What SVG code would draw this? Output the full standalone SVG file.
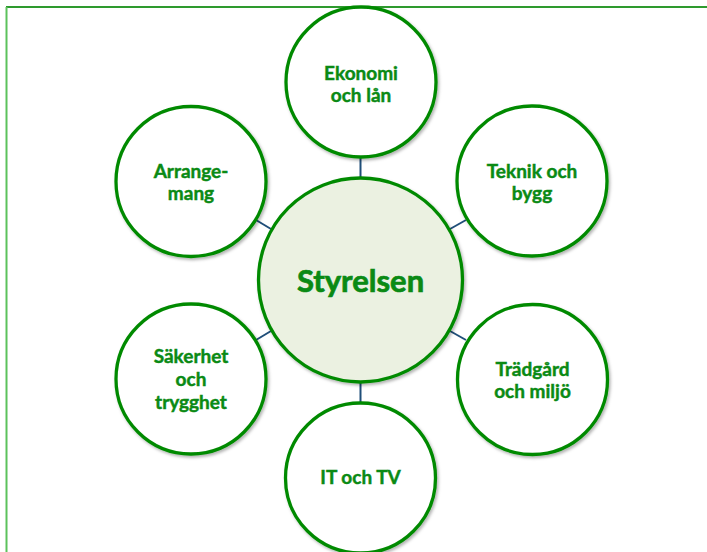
<svg xmlns="http://www.w3.org/2000/svg" width="707" height="552" viewBox="0 0 707 552">
<defs>
<filter id="sh" x="-10%" y="-10%" width="130%" height="130%">
<feDropShadow dx="1.5" dy="2" stdDeviation="1.5" flood-color="#000" flood-opacity="0.3"/>
</filter>
</defs>
<style>
.n{fill:#fff;stroke:#058A05;stroke-width:3.3;filter:url(#sh)}
.c{fill:#EBF1E1}
.t{font-family:Lato,"Liberation Sans",sans-serif;font-weight:700;fill:#0A8A14;stroke:#0A8A14;stroke-width:0.45;text-anchor:middle;font-size:19px}
.big{font-size:31px;stroke-width:0.7}
.e{stroke:#1F4E79;stroke-width:2;fill:none}
</style>
<rect width="707" height="552" fill="#fff"/>
<line x1="6" y1="7" x2="707" y2="7" stroke="#2E9A2E" stroke-width="2"/>
<line x1="6.5" y1="7" x2="6.5" y2="552" stroke="#5CC25C" stroke-width="2"/>
<g id="connectors">
<line class="e" x1="360.5" y1="158" x2="360.5" y2="177"/>
<line class="e" x1="360.5" y1="383" x2="360.5" y2="402"/>
<line class="e" x1="256" y1="220" x2="271" y2="229"/>
<line class="e" x1="450" y1="229" x2="466" y2="220"/>
<line class="e" x1="256" y1="340" x2="271" y2="331"/>
<line class="e" x1="450" y1="331" x2="466" y2="340"/>
</g>
<g id="ekonomi">
<circle class="n" cx="361" cy="82" r="75"/>
<text class="t" x="361" y="80">Ekonomi</text>
<text class="t" x="361" y="102">och lån</text>
</g>
<g id="teknik">
<circle class="n" cx="532" cy="181" r="75"/>
<text class="t" x="532" y="178">Teknik och</text>
<text class="t" x="532" y="200">bygg</text>
</g>
<g id="tradgard">
<circle class="n" cx="532.5" cy="379.5" r="75"/>
<text class="t" x="532.5" y="376">Trädgård</text>
<text class="t" x="532.5" y="398">och miljö</text>
</g>
<g id="it">
<circle class="n" cx="360.5" cy="478" r="75"/>
<text class="t" x="360.5" y="484">IT och TV</text>
</g>
<g id="sakerhet">
<circle class="n" cx="191" cy="379" r="75"/>
<text class="t" x="191" y="363">Säkerhet</text>
<text class="t" x="191" y="386">och</text>
<text class="t" x="191" y="409">trygghet</text>
</g>
<g id="arrangemang">
<circle class="n" cx="191" cy="181.5" r="75"/>
<text class="t" x="191" y="178">Arrange-</text>
<text class="t" x="191" y="200">mang</text>
</g>
<g id="styrelsen">
<circle class="n c" cx="360.5" cy="280" r="102"/>
<text class="t big" x="360.5" y="292">Styrelsen</text>
</g>
</svg>
